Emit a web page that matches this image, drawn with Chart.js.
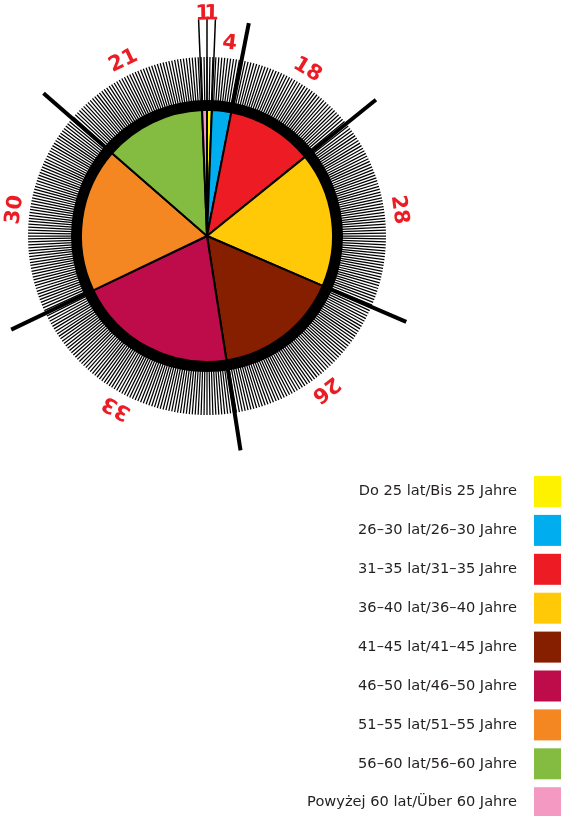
<!DOCTYPE html>
<html>
<head>
<meta charset="utf-8">
<script src="https://cdn.jsdelivr.net/npm/chart.js@4.4.1/dist/chart.umd.min.js"></script>
<style>
  html, body { margin: 0; padding: 0; background: #fff; }
</style>
</head>
<body>
<canvas id="age-chart" width="564" height="816"></canvas>
<script>
const categories = [
    'Do 25 lat/Bis 25 Jahre',
    '26–30 lat/26–30 Jahre',
    '31–35 lat/31–35 Jahre',
    '36–40 lat/36–40 Jahre',
    '41–45 lat/41–45 Jahre',
    '46–50 lat/46–50 Jahre',
    '51–55 lat/51–55 Jahre',
    '56–60 lat/56–60 Jahre',
    'Powyżej 60 lat/Über 60 Jahre'
];
const values = [1, 4, 18, 28, 26, 33, 30, 21, 1];
const colors = ['#fff200', '#00aeef', '#ed1c24', '#ffc907', '#861e00', '#be0b49', '#f58723', '#84bb41', '#f49ac2'];

const pieRadius = 126;

// ring of fine ticks, black rim, leader lines, value labels and the legend
const decorPlugin = {
    id: 'decor',
    afterDatasetsDraw(chart) {
        const ctx = chart.ctx;
        const arcs = chart.getDatasetMeta(0).data;
        const cx = arcs[0].x;
        const cy = arcs[0].y;
        const r = arcs[0].outerRadius;
        const pt = (a, rad) => [cx + Math.cos(a) * rad, cy + Math.sin(a) * rad];

        ctx.save();
        ctx.strokeStyle = '#000';

        ctx.lineWidth = 1.25;
        ctx.beginPath();
        for (let i = 0; i < 380; i++) {
            const a = i * Math.PI * 2 / 380;
            ctx.moveTo(...pt(a, r + 8));
            ctx.lineTo(...pt(a, r + 53));
        }
        ctx.stroke();

        ctx.lineWidth = 10;
        ctx.beginPath();
        ctx.arc(cx, cy, r + 5, 0, Math.PI * 2);
        ctx.stroke();

        arcs.forEach((arc, i) => {
            const prev = values[(i - 1 + values.length) % values.length];
            const thin = Math.min(prev, values[i]) < 2;
            const a = arc.startAngle;
            ctx.lineWidth = thin ? 1.5 : 4;
            ctx.beginPath();
            ctx.moveTo(...pt(a, thin ? r - 4 : r + 9));
            ctx.lineTo(...pt(a, r + 91));
            ctx.stroke();
        });

        ctx.fillStyle = '#ec1c24';
        ctx.font = 'bold 21px "DejaVu Sans"';
        ctx.textAlign = 'center';
        ctx.textBaseline = 'middle';
        arcs.forEach((arc, i) => {
            const mid = (arc.startAngle + arc.endAngle) / 2;
            const [x, y] = pt(mid, values[i] < 2 ? r + 96 : r + 68);
            ctx.save();
            ctx.translate(x, y);
            ctx.rotate(mid + Math.PI / 2);
            ctx.fillText(String(values[i]), 0, 0);
            ctx.restore();
        });

        ctx.font = '14.6px "DejaVu Sans"';
        ctx.textAlign = 'right';
        chart.data.labels.forEach((label, i) => {
            const top = 476 + i * 38.9;
            ctx.fillStyle = colors[i];
            ctx.fillRect(534, top, 27, 31);
            ctx.fillStyle = '#231f20';
            ctx.fillText(label, 517, top + 15.5);
        });

        ctx.restore();
    }
};

new Chart(document.getElementById('age-chart'), {
    type: 'pie',
    data: {
        labels: categories,
        datasets: [{
            data: values,
            backgroundColor: colors,
            borderColor: '#000',
            borderWidth: 2
        }]
    },
    options: {
        responsive: false,
        animation: false,
        radius: pieRadius,
        layout: { padding: { left: 0, top: 0, right: 150, bottom: 344 } },
        plugins: {
            legend: { display: false },
            tooltip: { enabled: false }
        }
    },
    plugins: [decorPlugin]
});
</script>
</body>
</html>
